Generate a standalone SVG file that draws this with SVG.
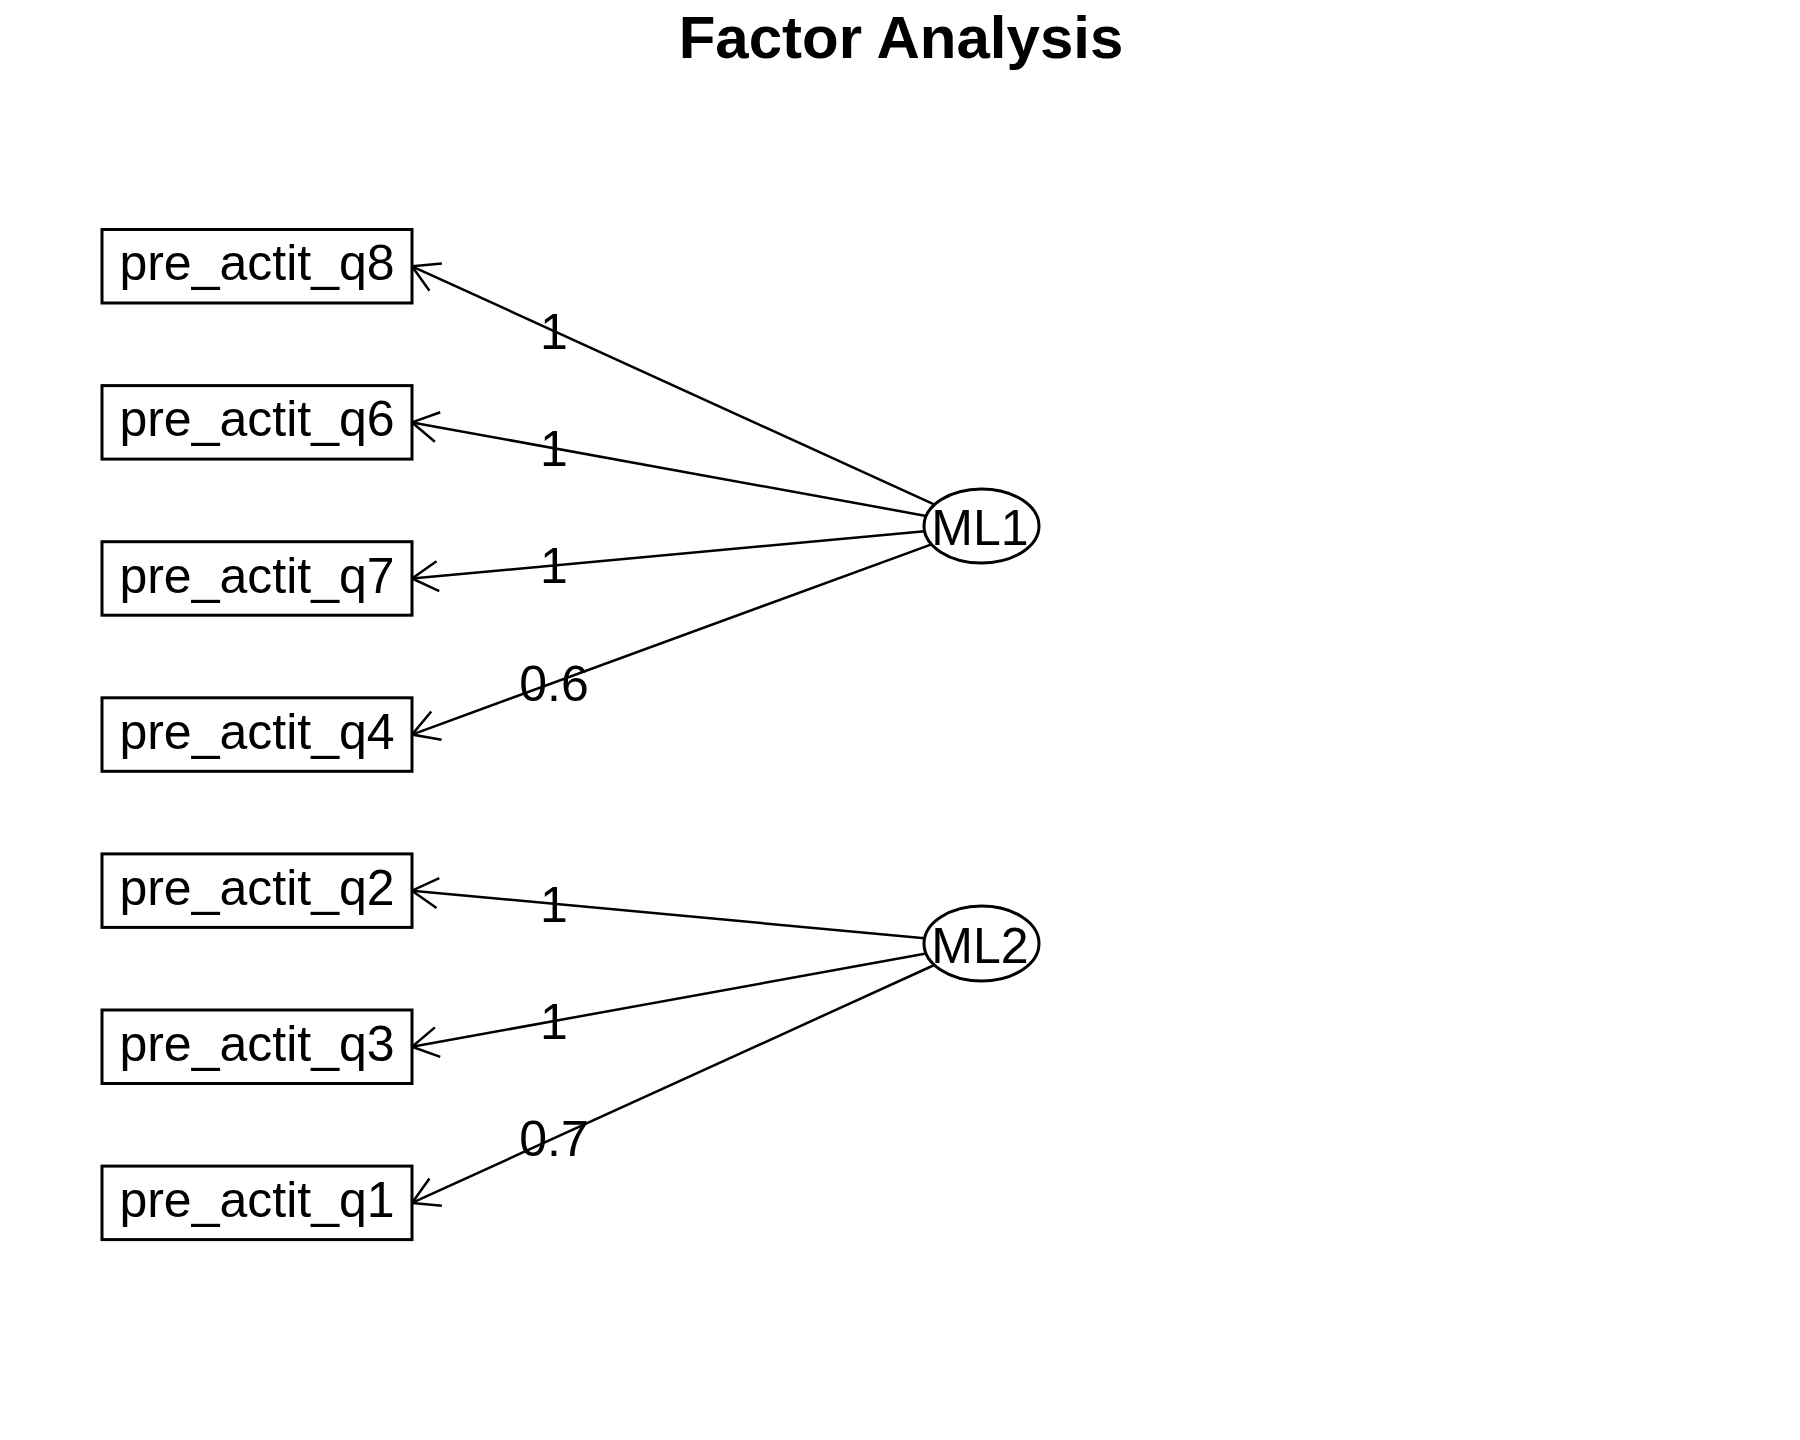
<svg xmlns="http://www.w3.org/2000/svg" width="1800" height="1440" viewBox="0 0 1800 1440">
<style>
text{font-family:"Liberation Sans",Arial,sans-serif;fill:#000}
.lbl{font-size:50px;text-anchor:middle}
.title{font-size:60px;font-weight:bold;text-anchor:middle}
.box{fill:#fff;stroke:#000;stroke-width:3}
.ell{fill:#fff;stroke:#000;stroke-width:3}
.edge{stroke:#000;stroke-width:2.5;fill:none;marker-end:url(#arr)}
</style>
<defs>
<marker id="arr" markerUnits="userSpaceOnUse" markerWidth="40" markerHeight="40" viewBox="-30 -20 40 40" refX="0" refY="0" orient="auto" overflow="visible">
<path d="M-26,-15 L0,0 L-26,15" fill="none" stroke="#000" stroke-width="2.5"/>
</marker>
</defs>
<rect width="1800" height="1440" fill="#fff"/>
<text class="title" x="901" y="58">Factor Analysis</text>
<g id="connectors">
<line class="edge" x1="934.6" y1="504.6" x2="412" y2="266.3"/>
<line class="edge" x1="926.2" y1="515.9" x2="412" y2="422.4"/>
<line class="edge" x1="924.6" y1="531.2" x2="412" y2="578.5"/>
<line class="edge" x1="931.5" y1="544.3" x2="412" y2="734.6"/>
<line class="edge" x1="924.6" y1="938.2" x2="412" y2="890.7"/>
<line class="edge" x1="926.1" y1="953.5" x2="412" y2="1046.8"/>
<line class="edge" x1="934.4" y1="965.0" x2="412" y2="1202.9"/>
<text class="lbl" x="554" y="349">1</text>
<text class="lbl" x="554" y="466">1</text>
<text class="lbl" x="554" y="583">1</text>
<text class="lbl" x="554" y="701">0.6</text>
<text class="lbl" x="554" y="922">1</text>
<text class="lbl" x="554" y="1039">1</text>
<text class="lbl" x="554" y="1156">0.7</text>
</g>
<g id="q8"><rect class="box" x="102" y="229.5" width="310" height="73.5"/><text class="lbl" x="257" y="280">pre_actit_q8</text></g>
<g id="q6"><rect class="box" x="102" y="385.6" width="310" height="73.5"/><text class="lbl" x="257" y="436.4">pre_actit_q6</text></g>
<g id="q7"><rect class="box" x="102" y="541.7" width="310" height="73.5"/><text class="lbl" x="257" y="592.5">pre_actit_q7</text></g>
<g id="q4"><rect class="box" x="102" y="697.8" width="310" height="73.5"/><text class="lbl" x="257" y="748.6">pre_actit_q4</text></g>
<g id="q2"><rect class="box" x="102" y="853.9" width="310" height="73.5"/><text class="lbl" x="257" y="904.7">pre_actit_q2</text></g>
<g id="q3"><rect class="box" x="102" y="1010" width="310" height="73.5"/><text class="lbl" x="257" y="1060.8">pre_actit_q3</text></g>
<g id="q1"><rect class="box" x="102" y="1166.1" width="310" height="73.5"/><text class="lbl" x="257" y="1217">pre_actit_q1</text></g>
<g id="ML1"><ellipse class="ell" cx="981.5" cy="526" rx="57.5" ry="37"/><text class="lbl" x="980" y="545">ML1</text></g>
<g id="ML2"><ellipse class="ell" cx="981.5" cy="943.5" rx="57.5" ry="37.5"/><text class="lbl" x="980" y="963">ML2</text></g>
</svg>
